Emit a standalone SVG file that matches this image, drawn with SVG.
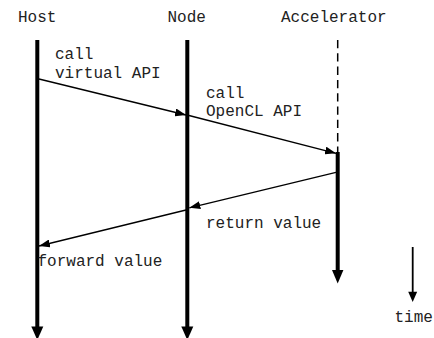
<svg xmlns="http://www.w3.org/2000/svg" width="434" height="338" viewBox="0 0 434 338">
  <style>
    text { font-family: "Liberation Mono", "DejaVu Sans Mono", monospace; font-size: 16px; fill: #222; }
    .life { stroke: #000; stroke-width: 4; fill: none; }
    .dash { stroke: #000; stroke-width: 1.5; stroke-dasharray: 8.3 5; fill: none; }
    .msg { stroke: #000; stroke-width: 1.3; fill: none; marker-end: url(#head); }
    .tip { fill: #000; }
  </style>
  <defs>
    <marker id="head" markerUnits="userSpaceOnUse" markerWidth="11" markerHeight="8" refX="11" refY="4" orient="auto">
      <path d="M0,0 L11,4 L0,8 z" fill="#000"/>
    </marker>
  </defs>
  <rect width="434" height="338" fill="#fff"/>

  <!-- lifelines -->
  <g id="host">
    <text x="18" y="21.5">Host</text>
    <line class="life" x1="37.3" y1="40" x2="37.3" y2="328"/>
    <polygon class="tip" points="31.3,326.5 43.3,326.5 37.3,340"/>
  </g>
  <g id="node">
    <text x="167.5" y="21.5">Node</text>
    <line class="life" x1="187.3" y1="40" x2="187.3" y2="328"/>
    <polygon class="tip" points="181.3,326.5 193.3,326.5 187.3,340"/>
  </g>
  <g id="accelerator">
    <text x="281" y="21.5">Accelerator</text>
    <line class="dash" x1="337.7" y1="40" x2="337.7" y2="152"/>
    <line class="life" x1="337.7" y1="152" x2="337.7" y2="271"/>
    <polygon class="tip" points="332,270 343.4,270 337.7,283.5"/>
  </g>

  <!-- messages -->
  <g id="connectors">
    <line class="msg" x1="39" y1="79" x2="186" y2="115"/>
    <line class="msg" x1="189" y1="115.5" x2="336" y2="153.3"/>
    <line class="msg" x1="336" y1="172.3" x2="189.3" y2="207.8"/>
    <line class="msg" x1="186" y1="210" x2="39" y2="246"/>
  </g>

  <g id="labels">
    <text x="55" y="59">call</text>
    <text x="55" y="78">virtual API</text>
    <text x="206" y="97.5">call</text>
    <text x="206" y="116">OpenCL API</text>
    <text x="206" y="228">return value</text>
    <text x="37.5" y="266">forward value</text>
  </g>

  <!-- time axis -->
  <g id="time">
    <line stroke="#000" stroke-width="1.8" x1="412.7" y1="247" x2="412.7" y2="293"/>
    <polygon class="tip" points="408.2,291.7 417.2,291.7 412.7,302"/>
    <text x="394.5" y="322">time</text>
  </g>
</svg>
